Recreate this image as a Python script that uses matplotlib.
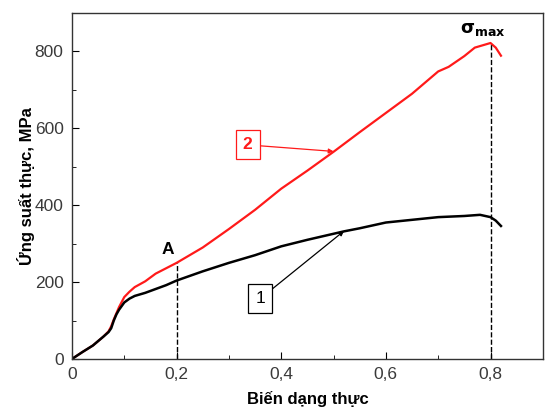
import matplotlib
matplotlib.use("Agg")
import matplotlib.pyplot as plt
from matplotlib.ticker import MultipleLocator, FuncFormatter

plt.rcParams['font.family'] = ['Liberation Sans', 'DejaVu Sans']

# Curve 2 (red)
x2 = [0, 0.02, 0.04, 0.06, 0.07, 0.075, 0.08, 0.09, 0.1, 0.11, 0.12, 0.14, 0.16, 0.18, 0.2,
      0.25, 0.3, 0.35, 0.4, 0.45, 0.5, 0.55, 0.6, 0.65, 0.7, 0.72, 0.75, 0.77, 0.79, 0.8, 0.81, 0.82]
y2 = [0, 18, 35, 58, 72, 85, 103, 135, 161, 175, 187, 202, 222, 236, 250,
      290, 338, 388, 443, 490, 539, 590, 640, 690, 748, 760, 788, 810, 818, 822, 810, 789]
# Curve 1 (black)
x1 = [0, 0.02, 0.04, 0.06, 0.07, 0.075, 0.08, 0.085, 0.09, 0.1, 0.11, 0.12, 0.14, 0.16, 0.18, 0.2,
      0.25, 0.3, 0.35, 0.4, 0.45, 0.52, 0.55, 0.6, 0.65, 0.7, 0.75, 0.78, 0.8, 0.81, 0.82]
y1 = [0, 18, 35, 58, 70, 80, 100, 116, 128, 147, 157, 164, 172, 182, 192, 204,
      228, 250, 270, 293, 310, 332, 340, 355, 362, 369, 372, 375, 369, 360, 346]

xmark_A = 0.2
ymark_A = 250
xmark_max = 0.8
ymark_max = 822

fig = plt.figure(figsize=(5.45, 4.07), dpi=100)
ax = fig.add_axes([0.132, 0.118, 0.864, 0.850])

ax.plot(x2, y2, color='#ff1a1a', lw=1.6)
ax.plot(x1, y1, color='black', lw=1.8)

ax.plot([xmark_A, xmark_A], [0, ymark_A], ls='--', color='black', lw=1.0)
ax.plot([xmark_max, xmark_max], [0, ymark_max], ls='--', color='black', lw=1.0)

ax.text(0.184, 266, 'A', fontsize=12.5, fontweight='bold', ha='center', va='bottom')
ax.text(0.785, 836, r'$\mathbf{\sigma}_{\mathbf{max}}$', fontsize=13, ha='center', va='bottom')

ax.annotate('2', xy=(0.5, 540), xytext=(0.336, 557), fontsize=12.5, fontweight='bold', color='#ff1a1a',
            ha='center', va='center',
            bbox=dict(boxstyle='square,pad=0.4', fc='white', ec='#ff1a1a', lw=0.9),
            arrowprops=dict(arrowstyle='-|>', color='#ff1a1a', lw=0.9, mutation_scale=7,
                            shrinkA=0, shrinkB=0))
ax.annotate('1', xy=(0.52, 333), xytext=(0.36, 157), fontsize=12.5, color='black',
            ha='center', va='center',
            bbox=dict(boxstyle='square,pad=0.4', fc='white', ec='black', lw=0.9),
            arrowprops=dict(arrowstyle='-|>', color='black', lw=0.9, mutation_scale=7,
                            shrinkA=0, shrinkB=0))

ax.set_xlim(0, 0.9)
ax.set_ylim(0, 900)
ax.xaxis.set_major_locator(MultipleLocator(0.2))
ax.xaxis.set_minor_locator(MultipleLocator(0.1))
ax.yaxis.set_major_locator(MultipleLocator(200))
ax.yaxis.set_minor_locator(MultipleLocator(100))
ax.xaxis.set_major_formatter(FuncFormatter(lambda v, p: '0' if abs(v) < 1e-9 else f'{v:.1f}'.replace('.', ',')))
ax.tick_params(which='both', direction='in', top=False, right=False, labelsize=12.5,
               labelcolor='#3a3a3a', pad=6)
ax.tick_params(which='major', length=5)
ax.tick_params(which='minor', length=3)
for s in ax.spines.values():
    s.set_color('#333333')
    s.set_linewidth(1.0)

ax.set_xlabel('Biến dạng thực', fontsize=12, fontweight='bold', labelpad=6)
ax.set_ylabel('Ứng suất thực, MPa', fontsize=12, fontweight='bold', labelpad=0)

fig.savefig('out.png', dpi=100)
